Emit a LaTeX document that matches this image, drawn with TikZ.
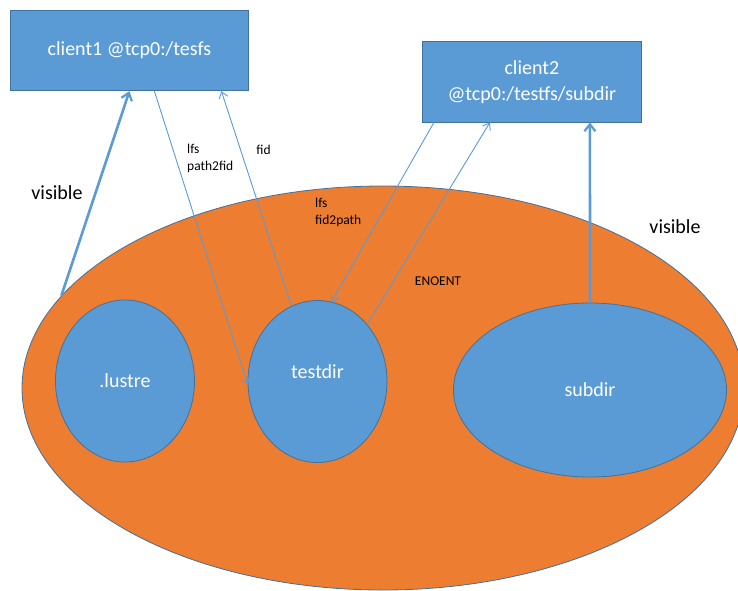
\documentclass[tikz,border=0pt]{standalone}
\usepackage{fontspec}
\setmainfont{Carlito}
\usetikzlibrary{arrows.meta,shapes.geometric,calc}
\definecolor{oblue}{HTML}{5B9BD5}
\definecolor{oborder}{HTML}{41719C}
\definecolor{oorange}{HTML}{ED7D31}
\begin{document}
\begin{tikzpicture}[x=1pt,y=-1pt,
  box/.style={draw=oborder, line width=0.8pt, fill=oblue, text=white, align=center,
    font=\fontsize{20}{26}\selectfont, inner sep=0pt},
  dirnode/.style={ellipse, draw=oborder, line width=0.8pt, fill=oblue, text=white,
    font=\fontsize{20}{24}\selectfont, inner sep=0pt},
  fsnode/.style={ellipse, draw=oborder, line width=0.8pt, fill=oorange, inner sep=0pt},
  small/.style={font=\fontsize{13.5}{17}\selectfont, align=left, inner sep=0pt, text=black},
  big/.style={font=\fontsize{20}{24}\selectfont, inner sep=0pt, text=black},
  thickarrow/.style={draw=oblue, line width=2.6pt, -{Straight Barb[length=7pt,width=11pt,line width=2.2pt]}},
  thinarrow/.style={draw=oblue, line width=0.9pt, -{Straight Barb[length=6pt,width=9pt]}}
]
\useasboundingbox (0,0) rectangle (738,590);
\fill[white] (0,0) rectangle (738,590);
\clip (0,0) rectangle (738,590);

\node[fsnode, minimum width=722pt, minimum height=404pt] (fs) at (383,388) {};
\node[dirnode, minimum width=139pt, minimum height=162pt] (lustre) at (125,381) {.lustre};
\node[dirnode, minimum width=139pt, minimum height=162pt,
  label={[text=white, font=\fontsize{20}{24}\selectfont, inner sep=0pt, yshift=10pt]center:testdir}] (testdir) at (317.5,381.5) {};
\node[dirnode, minimum width=273pt, minimum height=174pt] (subdir) at (590,390) {subdir};

\node[box, minimum width=237.5pt, minimum height=80.7pt] (c1) at (129.4,50.4) {client1 @tcp0:/tesfs};
\node[box, minimum width=218.3pt, minimum height=80.3pt] (c2) at (531.9,81.9) {client2\\@tcp0:/testfs/subdir};

% arrows
\draw[thickarrow] (fs.164) -- (c1.south);
\draw[thinarrow] ([xshift=25pt]c1.south) -- (testdir.182);
\draw[thinarrow] (testdir.109) -- ([xshift=92pt]c1.south);
\draw[thinarrow] ([xshift=-98pt]c2.south) -- (testdir.80);
\draw[thinarrow] (testdir.49) -- ([xshift=-42pt]c2.south);
\draw[thickarrow] (subdir.north) -- ([xshift=58pt]c2.south);

% labels
\node[big] (vis1) at (57,193) {visible};
\node[big] (vis2) at (675,227) {visible};
\node[small, anchor=west] (l1) at (187,158.5) {lfs\\path2fid};
\node[small] (l2) at (263.5,150) {fid};
\node[small, anchor=west] (l3) at (315,212) {lfs\\fid2path};
\node[small] (l4) at (438,281) {ENOENT};
\end{tikzpicture}
\end{document}
